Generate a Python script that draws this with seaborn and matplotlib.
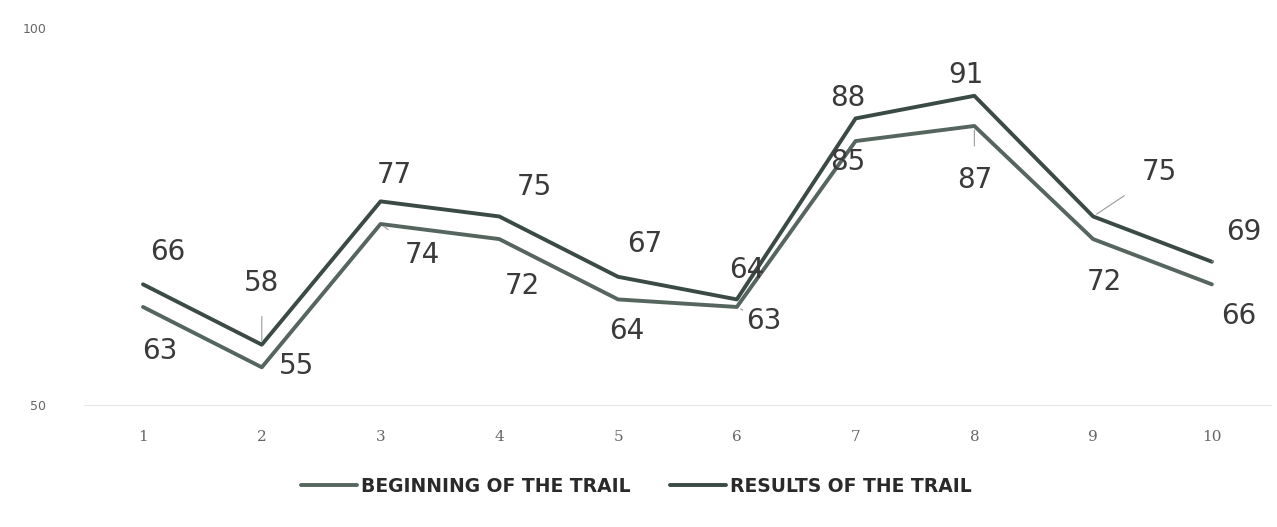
import matplotlib
matplotlib.use("Agg")
import matplotlib.pyplot as plt
import pandas as pd
import seaborn as sns

days = list(range(1, 11))
beginning = [63, 55, 74, 72, 64, 63, 85, 87, 72, 66]
results = [66, 58, 77, 75, 67, 64, 88, 91, 75, 69]

# label offsets in pixels (dx, dy), picked to sit like the original
res_off = [(25, 32), (0, 62), (14, 26), (35, 29), (27, 33), (10, 29), (-8, 20), (-8, 21), (66, 44), (32, 30)]
beg_off = [(17, -44), (35, 1), (42, -31), (23, -47), (9, -32), (27, -14), (-8, -21), (0, -54), (11, -43), (27, -32)]
# which labels get a thin leader line
res_leader = [False, True, False, False, False, False, False, False, True, True]
beg_leader = [False, False, True, False, False, True, False, True, False, False]

df = pd.DataFrame({
    "day": days * 2,
    "value": results + beginning,
    "series": ["RESULTS OF THE TRAIL"] * 10 + ["BEGINNING OF THE TRAIL"] * 10,
})

sns.set_style("white")
fig = plt.figure(figsize=(12.77, 5.27), dpi=100)
ax = fig.add_axes([0.0655, 0.2315, 0.93, 0.7155])

palette = {"BEGINNING OF THE TRAIL": "#56665f", "RESULTS OF THE TRAIL": "#3b4a45"}
sns.lineplot(data=df, x="day", y="value", hue="series", palette=palette,
             hue_order=["BEGINNING OF THE TRAIL", "RESULTS OF THE TRAIL"],
             linewidth=2.8, ax=ax, legend=True)


def label(d, v, dx, dy, leader):
    props = None
    if leader:
        props = dict(arrowstyle="-", color="#9a9a9a", lw=0.8, shrinkA=12, shrinkB=3)
    ax.annotate(str(v), (d, v), xytext=(dx, dy), textcoords="offset pixels",
                ha="center", va="center", fontsize=20, color="#3a3a3a",
                arrowprops=props)


for d, v, (dx, dy), ld in zip(days, results, res_off, res_leader):
    label(d, v, dx, dy, ld)
for d, v, (dx, dy), ld in zip(days, beginning, beg_off, beg_leader):
    label(d, v, dx, dy, ld)

ax.set_xlim(0.5, 10.5)
ax.set_ylim(50, 100)
ax.set_yticks([50, 100])
ax.set_xticks(days)
ax.tick_params(axis="y", labelsize=9, colors="#666666", length=0, pad=27)
ax.tick_params(axis="x", labelsize=11, colors="#666666", length=0, pad=18)
for lab in ax.get_xticklabels():
    lab.set_family("DejaVu Serif")
ax.set_xlabel("")
ax.set_ylabel("")
for s in ["top", "right", "left"]:
    ax.spines[s].set_visible(False)
ax.spines["bottom"].set_color("#e6e6e6")

leg = ax.legend(loc="center", bbox_to_anchor=(0.465, -0.215), ncol=2, frameon=False,
                handlelength=3.0, handletextpad=0.2, columnspacing=2.1,
                prop=dict(size=13.5, weight="bold"))
for t in leg.get_texts():
    t.set_color("#2a2a2a")

fig.savefig("out.png", dpi=100)
